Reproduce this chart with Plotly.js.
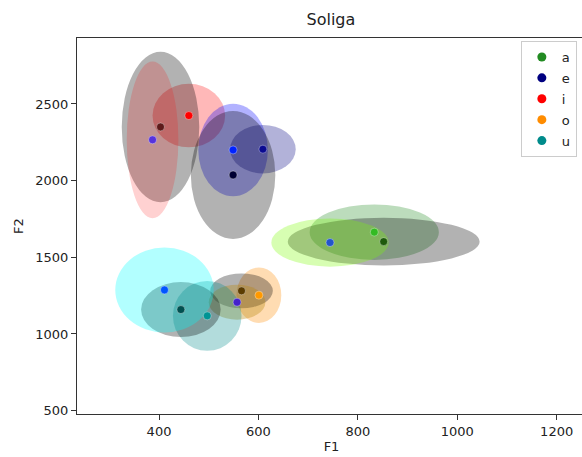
<!DOCTYPE html>
<html>
<head>
<meta charset="utf-8">
<script src="https://cdn.plot.ly/plotly-3.0.1.min.js"></script>
<style>
html,body{margin:0;padding:0;overflow:hidden;background:#fff;}
#chart{width:600px;height:457px;}
</style>
</head>
<body>
<div id="chart"></div>
<script>
// Legend categories
const vowels = ["a", "e", "i", "o", "u"];
const vowelColors = ["#228b22", "#000080", "#ff0000", "#ff8c00", "#008b8b"];

// Points (F1, F2)
const pointF1 = [460, 403, 387, 549, 609, 549, 833, 852, 744, 601, 566, 557, 497, 444, 411];
const pointF2 = [2424, 2350, 2266, 2200, 2205, 2037, 1664, 1602, 1596, 1253, 1281, 1207, 1118, 1159, 1287];
const pointColors = ["#ff0000", "#5e1a1a", "#5533dd", "#0022ff", "#0a0a90", "#000033",
                     "#33bb22", "#1e5a0c", "#2255cc", "#ff9900", "#5c3c00", "#4422cc",
                     "#009494", "#005050", "#0055ff"];

// Ellipse half-widths (F1 units) and half-heights (F2 units), centred on the points
const ellRadF1 = [73, 78, 52, 70, 66, 85, 130, 193, 118, 45, 63, 57, 69, 80, 99];
const ellRadF2 = [207, 491, 511, 302, 158, 417, 181, 155, 157, 181, 114, 114, 228, 179, 277];
const ellColors = ["rgba(255,0,0,0.28)", "rgba(0,0,0,0.3)", "rgba(255,0,0,0.18)",
                   "rgba(0,0,255,0.3)", "rgba(0,0,128,0.3)", "rgba(0,0,0,0.3)",
                   "rgba(34,139,34,0.3)", "rgba(0,0,0,0.3)", "rgba(124,252,0,0.3)",
                   "rgba(255,140,0,0.3)", "rgba(0,0,0,0.3)", "rgba(184,134,11,0.35)",
                   "rgba(0,139,139,0.3)", "rgba(0,0,0,0.3)", "rgba(0,255,255,0.3)"];

const xTicks = [400, 600, 800, 1000, 1200];
const yTicks = [500, 1000, 1500, 2000, 2500];

const shapes = pointF1.map((cx, i) => ({
  type: "circle", xref: "x", yref: "y",
  x0: cx - ellRadF1[i], x1: cx + ellRadF1[i],
  y0: pointF2[i] - ellRadF2[i], y1: pointF2[i] + ellRadF2[i],
  fillcolor: ellColors[i], line: {width: 0}, layer: "below"
}));

const traces = [{
  type: "scatter", mode: "markers", x: pointF1, y: pointF2,
  marker: {color: pointColors, size: 8, line: {color: "rgba(255,255,255,0.6)", width: 0.6}},
  showlegend: false, hoverinfo: "x+y"
}];
vowels.forEach((v, i) => traces.push({
  type: "scatter", mode: "markers", x: [null], y: [null], name: v,
  legendgroup: v,
  marker: {color: vowelColors[i], size: 9}
}));

const axisCommon = {
  showline: true, linecolor: "#333", linewidth: 1, mirror: true,
  showgrid: false, zeroline: false, ticks: "outside", ticklen: 5, tickcolor: "#333",
  tickfont: {family: "DejaVu Sans", size: 13, color: "#222"}
};

const layout = {
  width: 600, height: 457,
  margin: {l: 77, r: 14, t: 38, b: 43},
  paper_bgcolor: "#fff", plot_bgcolor: "#fff",
  font: {family: "DejaVu Sans", color: "#222"},
  title: {text: "Soliga", x: 0.5515, xanchor: "center", y: 0.958, yanchor: "middle",
          font: {family: "DejaVu Sans", size: 16, color: "#222"}},
  xaxis: Object.assign({}, axisCommon, {range: [235, 1259], tickvals: xTicks,
          title: {text: "F1", standoff: 4, font: {family: "DejaVu Sans", size: 13, color: "#222"}}}),
  yaxis: Object.assign({}, axisCommon, {range: [478, 2930], tickvals: yTicks,
          title: {text: "F2", standoff: 8, font: {family: "DejaVu Sans", size: 13, color: "#222"}}}),
  shapes: shapes,
  showlegend: true,
  legend: {x: 0.872, y: 0.992, xanchor: "left", yanchor: "top",
           bgcolor: "rgba(255,255,255,0.8)", bordercolor: "#cccccc", borderwidth: 1,
           font: {family: "DejaVu Sans", size: 13, color: "#222"}, tracegroupgap: 1}
};

Plotly.newPlot("chart", traces, layout, {displayModeBar: false, staticPlot: true});
</script>
</body>
</html>
